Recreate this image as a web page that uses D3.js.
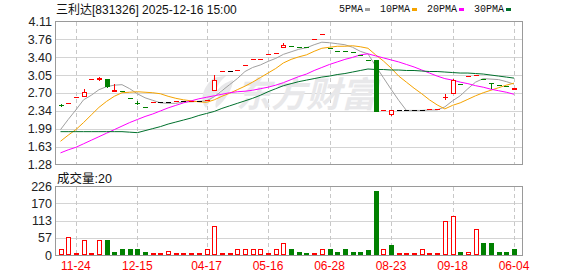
<!DOCTYPE html>
<html>
<head>
<meta charset="utf-8">
<script src="https://cdn.jsdelivr.net/npm/d3@7"></script>
<style>
body { margin: 0; background: #fff; }
svg { display: block; font-family: "Liberation Sans", Arial, "Noto Sans CJK SC", sans-serif; }
</style>
</head>
<body>
<svg width="578" height="276"></svg>
<script>
//daily candles, one entry per trading day shown
var open  = [2.46,2.49,2.61,2.63,2.97,2.98,2.97,2.74,2.73,2.59, 2.50,2.41,2.51,2.51,2.51,2.53,2.53,2.54,2.54,2.55,
             2.75,3.13,3.13,3.15,3.24,3.36,3.37,3.47,3.48,3.60, 3.62,3.61,3.60,3.77,3.87,3.58,3.53,3.52,3.51,3.45,
             3.34,3.34,2.36,2.28,2.35,2.35,2.35,2.35,2.37,2.38, 2.61,2.69,2.88,3.04,3.06,2.97,2.90,2.85,2.84,2.78];
var high  = [2.47,2.49,2.61,2.78,2.97,3.02,2.97,2.87,2.73,2.59, 2.53,2.41,2.51,2.51,2.51,2.53,2.53,2.54,2.54,2.55,
             3.05,3.13,3.13,3.15,3.24,3.36,3.37,3.47,3.48,3.69, 3.62,3.61,3.60,3.77,3.87,3.58,3.53,3.52,3.51,3.45,
             3.34,3.34,2.36,2.35,2.35,2.35,2.35,2.35,2.37,2.38, 2.67,2.97,2.88,3.04,3.06,2.97,2.90,2.85,2.84,2.79];
var low   = [2.43,2.49,2.61,2.63,2.97,2.96,2.82,2.74,2.73,2.59, 2.47,2.41,2.51,2.51,2.51,2.53,2.53,2.54,2.54,2.55,
             2.75,3.13,3.13,3.15,3.24,3.36,3.37,3.47,3.48,3.60, 3.62,3.61,3.60,3.77,3.87,3.58,3.53,3.52,3.51,3.45,
             3.34,2.33,2.36,2.26,2.35,2.35,2.35,2.35,2.37,2.38, 2.57,2.69,2.88,3.04,3.06,2.97,2.80,2.85,2.84,2.78];
var close = [2.45,2.49,2.61,2.71,2.97,3.00,2.84,2.75,2.73,2.59, 2.50,2.41,2.51,2.51,2.51,2.53,2.53,2.54,2.54,2.55,
             2.96,3.13,3.13,3.15,3.24,3.36,3.37,3.47,3.48,3.64, 3.62,3.61,3.60,3.77,3.87,3.58,3.53,3.52,3.51,3.45,
             3.34,2.34,2.36,2.35,2.35,2.35,2.35,2.35,2.37,2.38, 2.62,2.96,2.88,3.04,3.06,2.97,2.89,2.85,2.84,2.79];
var volume = [20,58,3,48,3,48,50,10,20,20, 20,10,3,3,12,6,6,6,6,20,
              97,3,3,20,20,20,20,3,20,38, 20,10,3,3,20,20,10,20,10,10,
              16,210,20,33,3,3,3,20,3,3, 111,130,10,10,87,38,38,10,10,20];

//moving averages as drawn on the chart
var ma5  = [1.97,2.17,2.36,2.56,2.65,2.76,2.82,2.85,2.86,2.78, 2.68,2.60,2.55,2.50,2.49,2.49,2.52,2.52,2.53,2.54,
            2.62,2.74,2.86,2.98,3.12,3.20,3.25,3.32,3.38,3.46, 3.51,3.56,3.59,3.65,3.70,3.69,3.67,3.65,3.60,3.52,
            3.47,3.23,3.00,2.77,2.55,2.35,2.35,2.35,2.36,2.36, 2.42,2.54,2.64,2.78,2.91,2.98,2.97,2.96,2.92,2.87];
var ma10 = [1.74,1.86,1.97,2.11,2.26,2.41,2.53,2.63,2.70,2.71, 2.72,2.71,2.70,2.68,2.63,2.59,2.56,2.54,2.52,2.51,
            2.56,2.63,2.69,2.76,2.83,2.91,3.00,3.09,3.18,3.29, 3.36,3.41,3.45,3.52,3.58,3.60,3.62,3.62,3.63,3.61,
            3.58,3.45,3.33,3.19,3.03,2.91,2.79,2.68,2.56,2.46, 2.38,2.45,2.50,2.57,2.64,2.70,2.75,2.80,2.85,2.89];
var ma20 = [1.51,1.57,1.62,1.69,1.76,1.83,1.90,1.97,2.04,2.11, 2.17,2.23,2.28,2.34,2.40,2.45,2.50,2.54,2.58,2.61,
            2.64,2.67,2.70,2.72,2.73,2.75,2.78,2.81,2.85,2.90, 2.96,3.02,3.07,3.14,3.20,3.26,3.31,3.36,3.40,3.45,
            3.47,3.43,3.39,3.35,3.31,3.26,3.21,3.15,3.09,3.03, 2.98,2.95,2.91,2.88,2.84,2.81,2.77,2.74,2.71,2.67];
var ma30 = [1.93,1.93,1.93,1.93,1.93,1.93,1.93,1.93,1.93,1.92, 1.91,1.95,1.99,2.03,2.08,2.12,2.16,2.20,2.25,2.29,
            2.33,2.39,2.44,2.49,2.54,2.59,2.65,2.72,2.78,2.84, 2.88,2.92,2.95,2.98,3.01,3.03,3.06,3.08,3.11,3.14,
            3.17,3.16,3.16,3.15,3.15,3.14,3.14,3.13,3.12,3.12, 3.11,3.10,3.09,3.09,3.08,3.07,3.05,3.03,3.01,2.99];

var maNames = ["5PMA", "10PMA", "20PMA", "30PMA"];
var maColors = ["#a0a0a0", "#f5a300", "#ff00ff", "#00702c"];

var priceTicks = [4.11, 3.76, 3.40, 3.05, 2.70, 2.34, 1.99, 1.63, 1.28];
var volTicks = [226, 170, 113, 57, 0];
//which candles get a date label under them
var tickIdx = [2, 10, 19, 27, 35, 43, 51, 59];
var tickLabels = ["11-24", "12-15", "04-17", "05-16", "06-28", "08-23", "09-18", "06-04"];

var title = "三利达[831326] 2025-12-16 15:00";

var svg = d3.select("svg");
var RED = "#ff0000", GREEN = "#008000";

//panel boxes
var L = 55.5, R = 522.5;
var mainTop = 21.5, mainBot = 164.5, volTop = 186.5, volBot = 255.5;

var x = d3.scaleLinear().domain([0, open.length - 1]).range([60.5, 514]);
var y = d3.scaleLinear().domain([1.28, 4.11]).range([mainBot, mainTop]);
var vy = d3.scaleLinear().domain([0, 226]).range([volBot - 0.5, volTop]);

function px(v) { return Math.round(v) + 0.5; }

//grid lines
var grid = svg.append("g").attr("shape-rendering", "crispEdges");
grid.selectAll(".hg").data(priceTicks.slice(1, -1)).enter().append("line")
    .attr("x1", L).attr("x2", R)
    .attr("y1", function(d) { return px(y(d)); })
    .attr("y2", function(d) { return px(y(d)); })
    .attr("stroke", "#d4d4d4");
grid.selectAll(".vg").data(volTicks.slice(1, -1)).enter().append("line")
    .attr("x1", L).attr("x2", R)
    .attr("y1", function(d) { return px(vy(d)); })
    .attr("y2", function(d) { return px(vy(d)); })
    .attr("stroke", "#d4d4d4");
[[mainTop, mainBot], [volTop, volBot]].forEach(function(p) {
  grid.selectAll(null).data(tickIdx).enter().append("line")
      .attr("x1", function(d) { return px(x(d)); })
      .attr("x2", function(d) { return px(x(d)); })
      .attr("y1", p[0]).attr("y2", p[1])
      .attr("stroke", "#c8c8c8")
      .attr("stroke-dasharray", "4,3");
});

//watermark
var wm = svg.append("g").attr("fill", "#e8e8ea");
wm.append("path")
    .attr("d", "M214,78 C203,86 199,100 206,108 C210,101 214,94 224,88 C218,96 214,103 216,108 C226,100 233,88 233,80 C226,82 220,86 216,92 C217,86 220,81 226,76 C222,76 217,77 214,78 Z");
wm.append("text")
    .attr("x", 236).attr("y", 107)
    .attr("font-size", 35).attr("font-weight", "bold")
    .attr("font-family", "'Noto Sans CJK SC', sans-serif")
    .attr("font-style", "italic")
    .text("东方财富");

//frames
svg.append("rect").attr("x", L).attr("y", mainTop).attr("width", R - L).attr("height", mainBot - mainTop)
    .attr("fill", "none").attr("stroke", "#9a9a9a");
svg.append("rect").attr("x", L).attr("y", volTop).attr("width", R - L).attr("height", volBot - volTop)
    .attr("fill", "none").attr("stroke", "#9a9a9a");

//moving average lines
[ma5, ma10, ma20, ma30].forEach(function(arr, k) {
  var line = d3.line()
      .x(function(d, i) { return x(i); })
      .y(function(d) { return y(d); });
  svg.append("path")
      .attr("d", line(arr))
      .attr("fill", "none")
      .attr("stroke", maColors[k])
      .attr("stroke-width", 1);
});

//candle colour: body direction first, flat bodies compare with the day before
function candleColor(i) {
  if (close[i] > open[i]) return RED;
  if (close[i] < open[i]) return GREEN;
  if (i == 0) return "#000";
  if (close[i] > close[i - 1]) return RED;
  if (close[i] < close[i - 1]) return GREEN;
  return "#000";
}

var candles = svg.append("g").attr("shape-rendering", "crispEdges");
open.forEach(function(o, i) {
  var c = close[i], col = candleColor(i);
  var cx = Math.round(x(i));
  var yTop = Math.round(y(Math.max(o, c))), yBot = Math.round(y(Math.min(o, c)));
  var yHi = Math.round(y(high[i])), yLo = Math.round(y(low[i]));
  //wicks
  if (yHi < yTop) candles.append("line").attr("x1", cx + 0.5).attr("x2", cx + 0.5)
      .attr("y1", yHi).attr("y2", yTop).attr("stroke", col);
  if (yLo > yBot) candles.append("line").attr("x1", cx + 0.5).attr("x2", cx + 0.5)
      .attr("y1", yBot).attr("y2", yLo + 1).attr("stroke", col);
  if (yBot - yTop < 2) {
    //flat day: a short dash
    candles.append("rect").attr("x", cx - 2).attr("y", yTop).attr("width", 5).attr("height", Math.max(1, yBot - yTop + 1))
        .attr("fill", col);
  } else if (col == RED) {
    candles.append("rect").attr("x", cx - 1.5).attr("y", yTop + 0.5).attr("width", 4).attr("height", yBot - yTop)
        .attr("fill", "#fff").attr("stroke", RED);
  } else {
    candles.append("rect").attr("x", cx - 2).attr("y", yTop).attr("width", 5).attr("height", yBot - yTop + 1)
        .attr("fill", col);
  }
});

//volume bars, coloured by change from previous close
var vols = svg.append("g").attr("shape-rendering", "crispEdges");
volume.forEach(function(v, i) {
  var up = i == 0 || close[i] >= close[i - 1];
  var cx = Math.round(x(i));
  var top = Math.round(vy(v));
  var h = Math.round(volBot - 0.5) - top;
  if (h < 2) {
    vols.append("rect").attr("x", cx - 2).attr("y", top - 1).attr("width", 5).attr("height", 2)
        .attr("fill", up ? RED : GREEN);
  } else if (up) {
    vols.append("rect").attr("x", cx - 1.5).attr("y", top + 0.5).attr("width", 4).attr("height", h - 1)
        .attr("fill", "#fff").attr("stroke", RED);
  } else {
    vols.append("rect").attr("x", cx - 2).attr("y", top).attr("width", 5).attr("height", h)
        .attr("fill", GREEN);
  }
});

//axis labels
svg.selectAll(".pl").data(priceTicks).enter().append("text")
    .attr("x", 52).attr("y", function(d) { return y(d); })
    .attr("dy", "0.36em").attr("text-anchor", "end")
    .attr("font-size", 12.5).attr("fill", "#222")
    .text(function(d) { return d.toFixed(2); });
svg.selectAll(".vl").data(volTicks).enter().append("text")
    .attr("x", 52).attr("y", function(d) { return vy(d); })
    .attr("dy", "0.36em").attr("text-anchor", "end")
    .attr("font-size", 12.5).attr("fill", "#222")
    .text(function(d) { return d; });
svg.selectAll(".xl").data(tickIdx).enter().append("text")
    .attr("x", function(d) { return x(d); }).attr("y", 270)
    .attr("text-anchor", "middle")
    .attr("font-size", 12).attr("fill", RED)
    .text(function(d, i) { return tickLabels[i]; });

//titles
svg.append("text").attr("x", 56).attr("y", 14).attr("font-size", 12).attr("fill", "#111").text(title);
svg.append("text").attr("x", 57).attr("y", 183).attr("font-size", 12.5).attr("fill", "#111")
    .text("成交量:" + volume[volume.length - 1]);

//legend
var lx = 339;
maNames.forEach(function(name, k) {
  var t = svg.append("text").attr("x", lx).attr("y", 12)
      .attr("font-family", "'Liberation Mono', monospace")
      .attr("font-size", 10).attr("fill", "#111").text(name);
  var w = t.node().getComputedTextLength();
  svg.append("rect").attr("x", Math.round(lx + w + 2)).attr("y", 8).attr("width", 5).attr("height", 3)
      .attr("fill", maColors[k]);
  lx = Math.round(lx + w + 2) + 5 + 10;
});
</script>
</body>
</html>
